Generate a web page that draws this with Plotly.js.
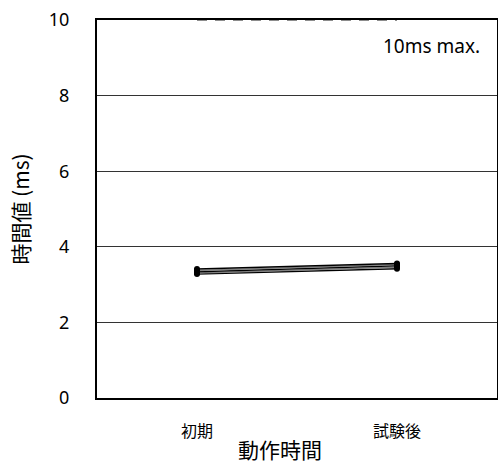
<!DOCTYPE html>
<html><head><meta charset="utf-8">
<script src="https://cdn.plot.ly/plotly-3.0.1.min.js"></script>
<style>html,body{margin:0;padding:0;background:#fff}</style>
</head><body><div id="chart" style="width:498px;height:467px"></div>
<script>
const categories = ['初期', '試験後'];
const sample1 = [3.28, 3.42];
const sample2 = [3.31, 3.46];
const sample3 = [3.34, 3.50];
const sample4 = [3.37, 3.53];
const sample5 = [3.41, 3.56];
const limitValues = [10, 10];
const limitLabel = '10ms max.';
const xTitle = '動作時間';
const yTicks = [0, 2, 4, 6, 8, 10];

const samples = [sample1, sample2, sample3, sample4, sample5];
const lineColors = ['#000000', '#808080', '#000000', '#808080', '#000000'];
const traces = samples.map((s, i) => ({
  x: categories, y: s, type: 'scatter', mode: 'lines+markers',
  line: {color: lineColors[i], width: 1.5},
  marker: {color: '#000', size: 6},
  cliponaxis: false, showlegend: false, hoverinfo: 'skip'
}));
traces.push({
  x: categories, y: limitValues, type: 'scatter', mode: 'lines',
  line: {color: '#8c8c8c', width: 2, dash: '10px,8px'},
  cliponaxis: false, showlegend: false, hoverinfo: 'skip'
});

const cjk = '"Noto Sans CJK JP", "Noto Sans", sans-serif';
const layout = {
  width: 498, height: 467,
  margin: {l: 97, r: 1, t: 20, b: 69},
  paper_bgcolor: '#fff', plot_bgcolor: '#fff',
  font: {family: cjk, color: '#000'},
  xaxis: {
    type: 'category', range: [-0.5, 1.5],
    showline: true, mirror: true, linecolor: '#000', linewidth: 2,
    showgrid: false, ticks: '', layer: 'below traces',
    tickfont: {size: 16, family: cjk}, ticklabelstandoff: 18
  },
  yaxis: {
    range: [0, 10], tickvals: yTicks, ticktext: yTicks.map(String),
    showline: true, mirror: true, linecolor: '#000', linewidth: 2,
    showgrid: true, gridcolor: '#333', gridwidth: 1, zeroline: false,
    ticks: '', layer: 'below traces',
    tickfont: {size: 18, family: '"Noto Sans", sans-serif'}, ticklabelstandoff: 22,
    title: {text: '時間値 (ms)', font: {size: 21, family: cjk}, standoff: 13}
  },
  annotations: [{
    xref: 'paper', yref: 'paper', x: 0.835, y: 0.932, xanchor: 'center', yanchor: 'middle',
    text: limitLabel, showarrow: false, font: {size: 19, family: '"Noto Sans", sans-serif'}
  }, {
    xref: 'paper', yref: 'paper', x: 0.4575, y: -0.135, xanchor: 'center', yanchor: 'middle',
    text: xTitle, showarrow: false, font: {size: 21, family: cjk}
  }]
};
Plotly.newPlot('chart', traces, layout, {displayModeBar: false, staticPlot: true});
</script></body></html>
